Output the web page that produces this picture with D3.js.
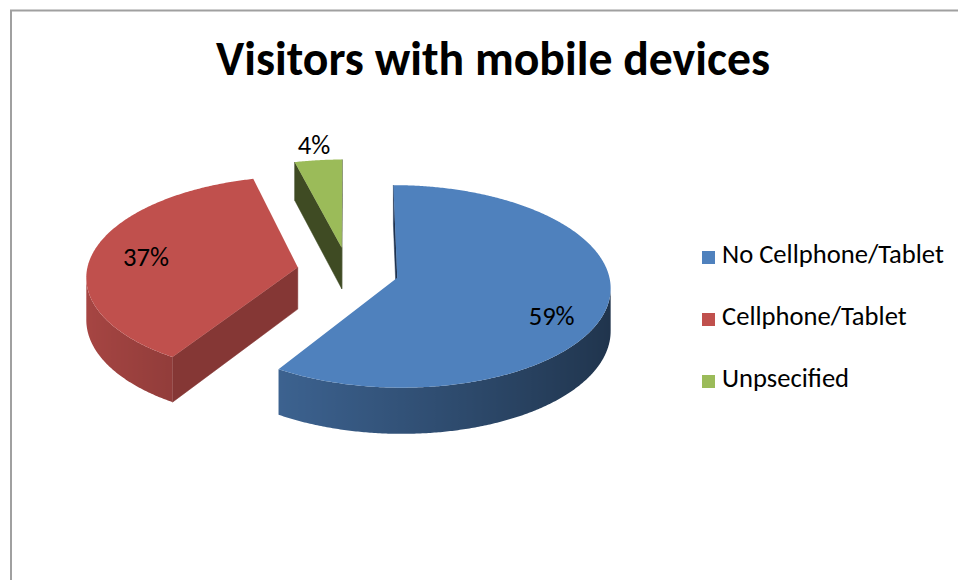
<!DOCTYPE html>
<html>
<head>
<meta charset="utf-8">
<script src="https://cdn.jsdelivr.net/npm/d3@7"></script>
<style>
  html, body { margin: 0; padding: 0; background: #ffffff; overflow: hidden; }
  svg { display: block; }
</style>
</head>
<body>
<svg id="chart" width="958" height="580"></svg>
<script>
// ---- data ----
const chartTitle = "Visitors with mobile devices";
const categories = ["No Cellphone/Tablet", "Cellphone/Tablet", "Unpsecified"];
const shares = [59, 37, 4];
const valueLabels = ["59%", "37%", "4%"];

// ---- styles ----
const topColors = ["#4F81BD", "#C0504D", "#9BBB59"];
const cutFaceColors = ["#1F3350", "#853735", "#3F4B23"];
const FONT = "Carlito, Lato, 'Open Sans', sans-serif";

const W = 958, H = 580;
const svg = d3.select("#chart");
const defs = svg.append("defs");

// chart frame (top and left edges)
svg.append("path")
  .attr("d", `M11,${H}V10.5H${W}`)
  .attr("fill", "none")
  .attr("stroke", "#a0a0a0")
  .attr("stroke-width", 2);

// ---- 3D pie geometry ----
const cx = 348, cy = 271;     // pie centre on screen
const R = 211;                // radius
const tilt = 0.471;           // vertical squash of the pie plane
const persp = 0.085;          // perspective strength (near side larger)
const depth = 42;             // slab thickness
const explode = 51;           // slice explosion distance

// plane coords (x right, z toward viewer), d = drop below top surface
function project(x, z, d) {
  const s = 1 / (1 - persp * z / R);
  return [cx + x * s, cy + (z * tilt + d) * s];
}

const pie = d3.pie().value(d => d).sort(null)
  .startAngle(0).endAngle(2 * Math.PI);
const arcs = pie(shares).map((a, i) => {
  const mid = (a.startAngle + a.endAngle) / 2;
  return Object.assign({}, a, {
    i,
    mid,
    ox: explode * Math.sin(mid),
    oz: -explode * Math.cos(mid)
  });
});

function pt(a, theta, r, d) {
  return project(a.ox + r * Math.sin(theta), a.oz - r * Math.cos(theta), d);
}

function signedArea(poly) {
  let s = 0;
  for (let k = 0; k < poly.length; k++) {
    const p = poly[k], q = poly[(k + 1) % poly.length];
    s += p[0] * q[1] - q[0] * p[1];
  }
  return s / 2;
}

const polyLine = d3.line().curve(d3.curveLinearClosed);

function shade(color, f) {
  const c = d3.rgb(color);
  return d3.rgb(c.r * f, c.g * f, c.b * f).formatHex();
}

// lighting of the curved outer wall depends on its facing direction
const rimShade = theta => 0.635 - 0.235 * Math.sin(theta);

const pieG = svg.append("g").attr("class", "pie");

// paint from back to front
const order = arcs.slice().sort((a, b) => a.oz - b.oz);

order.forEach(a => {
  const g = pieG.append("g").attr("class", "slice slice-" + a.i);
  const apexTop = project(a.ox, a.oz, 0);
  const apexBot = project(a.ox, a.oz, depth);

  // straight cut faces (start and end radius)
  const faces = [
    [apexTop, pt(a, a.startAngle, R, 0), pt(a, a.startAngle, R, depth), apexBot],
    [apexTop, apexBot, pt(a, a.endAngle, R, depth), pt(a, a.endAngle, R, 0)]
  ];
  faces.forEach(poly => {
    if (signedArea(poly) < 0) {
      g.append("path")
        .attr("d", polyLine(poly))
        .attr("fill", cutFaceColors[a.i])
        .attr("stroke", cutFaceColors[a.i])
        .attr("stroke-width", 0.5);
    }
  });

  // curved outer wall: visible angular range, filled with a shading gradient
  const steps = Math.max(2, Math.ceil((a.endAngle - a.startAngle) / (Math.PI / 360)));
  const thetas = d3.range(steps + 1).map(j => a.startAngle + (a.endAngle - a.startAngle) * j / steps);
  const visible = [];
  for (let j = 0; j < steps; j++) {
    const t0 = thetas[j], t1 = thetas[j + 1];
    const quad = [pt(a, t0, R, 0), pt(a, t1, R, 0), pt(a, t1, R, depth), pt(a, t0, R, depth)];
    if (signedArea(quad) < 0) {
      if (!visible.length || visible[visible.length - 1] !== t0) visible.push(t0);
      visible.push(t1);
    }
  }
  if (visible.length > 1) {
    const topEdge = visible.map(t => pt(a, t, R, 0));
    const botEdge = visible.map(t => pt(a, t, R, depth)).reverse();
    const xs = topEdge.map(p => p[0]);
    const x0 = d3.min(xs), x1 = d3.max(xs);
    const gradId = "rim-" + a.i;
    const grad = defs.append("linearGradient")
      .attr("id", gradId)
      .attr("gradientUnits", "userSpaceOnUse")
      .attr("x1", x0).attr("x2", x1).attr("y1", 0).attr("y2", 0);
    const stops = visible.map((t, k) => ({
      off: (xs[k] - x0) / Math.max(1e-6, x1 - x0),
      col: shade(topColors[a.i], rimShade(t))
    })).sort((p, q) => p.off - q.off);
    grad.selectAll("stop").data(stops).join("stop")
      .attr("offset", d => d.off)
      .attr("stop-color", d => d.col);
    g.append("path")
      .attr("d", polyLine(topEdge.concat(botEdge)))
      .attr("fill", `url(#${gradId})`);
  }

  // top surface
  const topPoly = [apexTop].concat(thetas.map(t => pt(a, t, R, 0)));
  g.append("path")
    .attr("d", polyLine(topPoly))
    .attr("fill", topColors[a.i]);
});

// ---- legend (sizes fitted to the available text widths) ----
const legendY = d3.scalePoint().domain(categories).range([263, 387]);
const legend = svg.append("g").attr("class", "legend");

const firstText = legend.append("text")
  .attr("font-family", FONT).attr("font-size", 26)
  .text(categories[0]);
const legendSize = 26 * 222 / firstText.node().getComputedTextLength();
firstText.remove();

categories.forEach((c, i) => {
  const y = legendY(c);
  legend.append("rect")
    .attr("x", 702).attr("y", y - 12)
    .attr("width", 13).attr("height", 13)
    .attr("fill", topColors[i]);
  legend.append("text")
    .attr("x", 722).attr("y", y)
    .attr("font-family", FONT)
    .attr("font-size", legendSize)
    .attr("fill", "#000")
    .text(c);
});

// ---- data labels ----
const labelPlacement = [
  { r: 0.74, d: 16 },
  { r: 0.74, d: 0 },
  { r: 1.2, d: 0 }
];
const labelG = svg.append("g").attr("class", "labels");
arcs.forEach(a => {
  const lp = labelPlacement[a.i];
  const [x, y] = pt(a, a.mid, R * lp.r, lp.d);
  labelG.append("text")
    .attr("x", x).attr("y", y)
    .attr("dy", "0.36em")
    .attr("text-anchor", "middle")
    .attr("font-family", FONT)
    .attr("font-size", legendSize)
    .attr("fill", "#000")
    .text(valueLabels[a.i]);
});

// ---- title ----
const titleText = svg.append("text")
  .attr("x", 493).attr("y", 75)
  .attr("text-anchor", "middle")
  .attr("font-family", FONT)
  .attr("font-weight", "bold")
  .attr("font-size", 46)
  .attr("fill", "#000")
  .text(chartTitle);
titleText.attr("font-size", 46 * 554 / titleText.node().getComputedTextLength());
</script>
</body>
</html>
